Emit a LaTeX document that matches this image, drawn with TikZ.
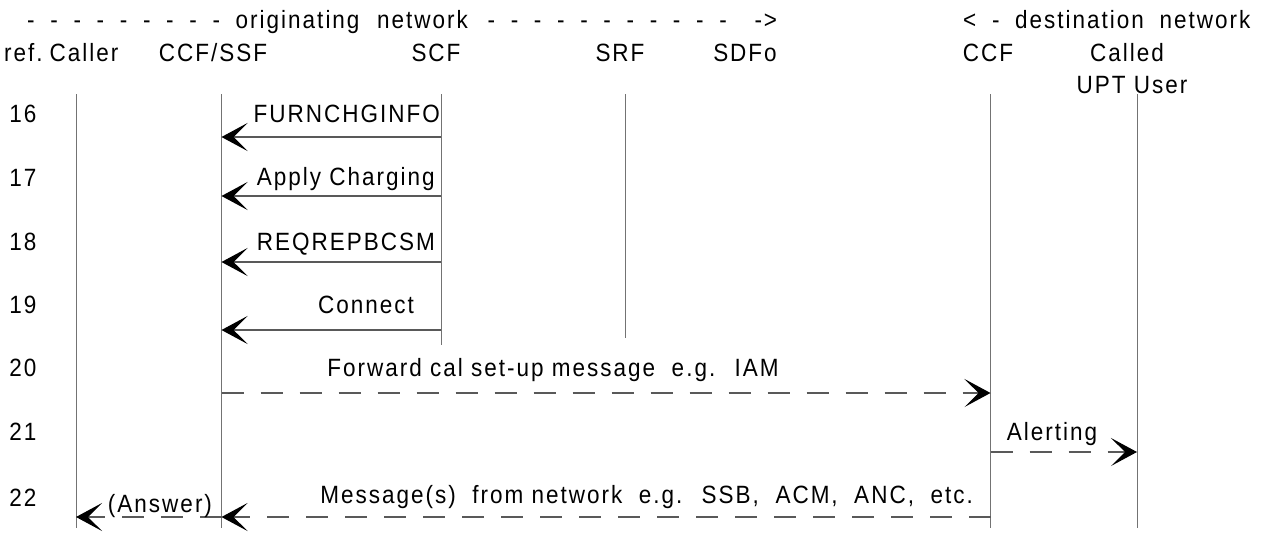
\documentclass[tikz,border=0pt]{standalone}
\usepackage{fontspec}
\setmainfont{Liberation Sans}[LetterSpace=8, FakeStretch=0.9]
\newfontfamily\hdrfont{Liberation Sans}[LetterSpace=8, FakeStretch=0.9, WordSpace=1.9]
\usetikzlibrary{arrows.meta}
\begin{document}
\begin{tikzpicture}[x=1pt, y=-1pt,
  txt/.style={font=\fontsize{25}{28}\selectfont, inner sep=0pt, anchor=base},
  hdr/.style={txt, font=\hdrfont\fontsize{25}{28}\selectfont, anchor=base west},
  life/.style={draw=black!55, line width=1pt},
  msg/.style={draw=black!65, line width=1.2pt, -{Stealth[length=26pt, width=28pt, inset=14pt, black]}},
  dmsg/.style={msg, dash pattern=on 22pt off 17pt},
]
\useasboundingbox (0,0) rectangle (1272,536);

% lifelines
\coordinate (caller) at (76,94);
\coordinate (ssf) at (221.5,94);
\coordinate (scf) at (441,94);
\coordinate (srf) at (625,94);
\coordinate (ccf) at (990.5,94);
\coordinate (upt) at (1137,94);
\coordinate (bot) at (0,528);
\coordinate (scfend) at (0,345);
\coordinate (srfend) at (0,338);

\draw[life] (caller) -- (caller |- bot);
\draw[life] (ssf) -- (ssf |- bot);
\draw[life] (scf) -- (scf |- scfend);
\draw[life] (srf) -- (srf |- srfend);
\draw[life] (ccf) -- (ccf |- bot);
\draw[life] (upt) -- (upt |- bot);

% headings
\node[hdr] (orig) at (27,28) {- - - - - - - - - originating\hspace{2pt} network\hspace{4pt} - - - - - - - - - - -\hspace{12pt} ->};
\node[hdr] (dest) at (963,28) {< - destination network};
\node[txt, anchor=base west] (href) at (4,61) {ref.};
\node[txt] (hcaller) at (84,61) {Caller};
\node[txt] (hssf) at (213,61) {CCF/SSF};
\node[txt] (hscf) at (436,61) {SCF};
\node[txt] (hsrf) at (620,61) {SRF};
\node[txt] (hsdf) at (745,61) {SDFo};
\node[txt] (hccf) at (988,61) {CCF};
\node[txt] (hcalled) at (1127,61) {Called};
\node[txt] (hupt) at (1132,93) {UPT User};

% step numbers
\foreach \n/\y in {16/122, 17/186, 18/250, 19/313, 20/376, 21/440, 22/506}
  \node[txt] (ref\n) at (23,\y) {\n};

% message rows
\coordinate (m16) at (0,137);
\coordinate (m17) at (0,196);
\coordinate (m18) at (0,262);
\coordinate (m19) at (0,330);
\coordinate (m20) at (0,393);
\coordinate (m21) at (0,452);
\coordinate (m22) at (0,517);

\draw[msg] (scf |- m16) -- (ssf |- m16);
\node[txt, anchor=base east] (l16) at (440,122) {FURNCHGINFO};
\draw[msg] (scf |- m17) -- (ssf |- m17);
\node[txt, anchor=base east] (l17) at (435,185) {Apply Charging};
\draw[msg] (scf |- m18) -- (ssf |- m18);
\node[txt, anchor=base east] (l18) at (435,250) {REQREPBCSM};
\draw[msg] (scf |- m19) -- (ssf |- m19);
\node[txt] (l19) at (366,313) {Connect};
\draw[dmsg] (ssf |- m20) -- (ccf |- m20);
\node[txt] (l20) at (553,376) {Forward cal set-up message~ e.g.~ IAM};
\draw[dmsg] (ccf |- m21) -- (upt |- m21);
\node[txt] (l21) at (1052,440) {Alerting};
\draw[dmsg] (ccf |- m22) -- (ssf |- m22);
\node[txt, anchor=base east] (l22) at (973,503) {Message(s)~ from network~ e.g.~ SSB,~ ACM,~ ANC,~ etc.};
\draw[dmsg] (ssf |- m22) -- (caller |- m22);
\node[txt] (l22a) at (160,512) {(Answer)};
\end{tikzpicture}
\end{document}
